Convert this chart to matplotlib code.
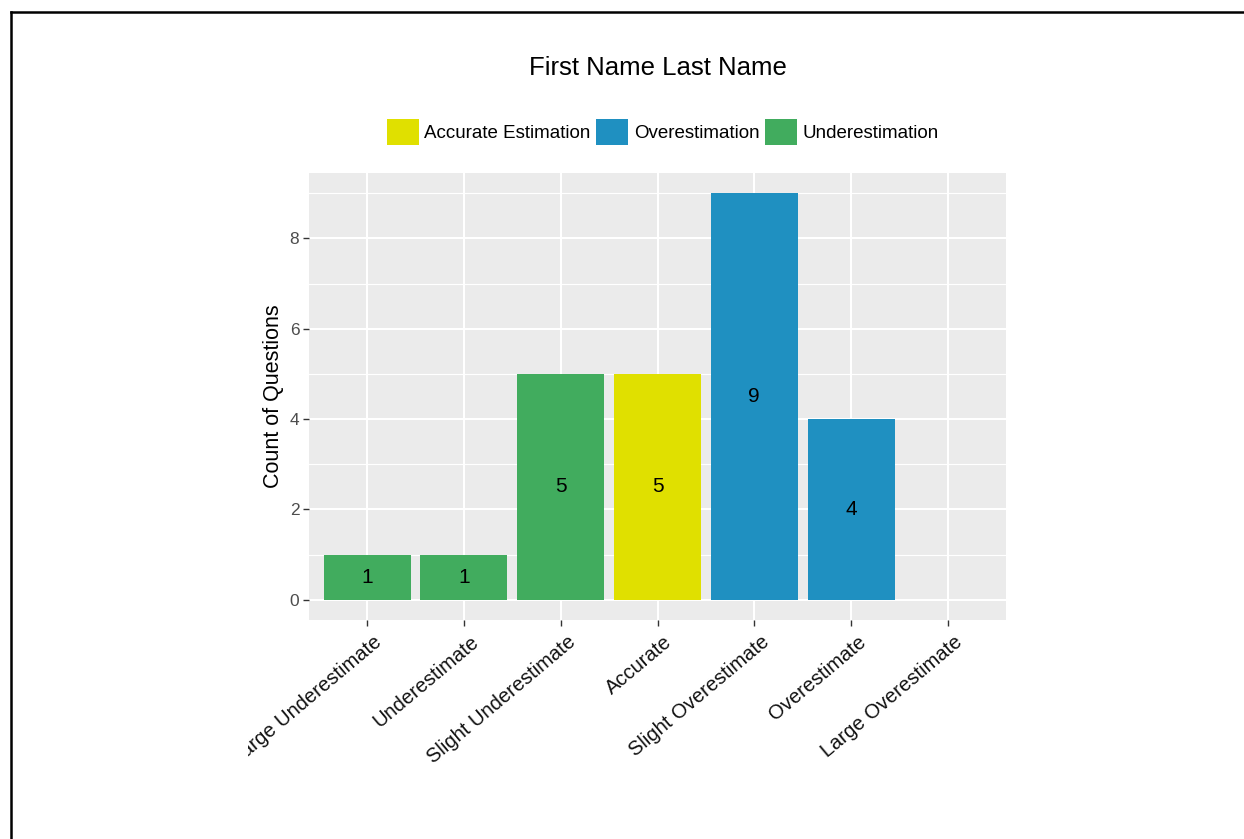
import matplotlib
matplotlib.use("Agg")
import matplotlib.pyplot as plt
from matplotlib.patches import Patch
from matplotlib.lines import Line2D
from matplotlib.transforms import Bbox, TransformedBbox, ScaledTranslation
import numpy as np

categories = ["Large Underestimate", "Underestimate", "Slight Underestimate", "Accurate",
              "Slight Overestimate", "Overestimate", "Large Overestimate"]
counts = [1, 1, 5, 5, 9, 4, 0]
groups = ["Underestimation", "Underestimation", "Underestimation", "Accurate Estimation",
          "Overestimation", "Overestimation", "Overestimation"]
legend_order = ["Accurate Estimation", "Overestimation", "Underestimation"]
colors = {"Accurate Estimation": "#E0E000", "Overestimation": "#1F90C1", "Underestimation": "#41AC5E"}
y_ticks = [0, 2, 4, 6, 8]

plt.rcParams['font.family'] = ['Liberation Sans', 'DejaVu Sans']

W, H = 1244, 839
fig = plt.figure(figsize=(W / 100, H / 100), dpi=100)
ax = fig.add_axes([309 / W, 1 - 620 / H, (1006 - 309) / W, (620 - 173) / H])
ax.set_facecolor("#EBEBEB")

x = np.arange(len(categories))
for i in range(len(categories)):
    if counts[i] > 0:
        ax.bar(x[i], counts[i], width=0.9, color=colors[groups[i]], zorder=3)
        ax.text(x[i], counts[i] / 2, str(counts[i]), ha="center", va="center",
                fontsize=15, color="black", zorder=4)

ax.set_xlim(-0.6, len(categories) - 0.4)
ax.set_ylim(-0.45, 9.45)
ax.set_yticks(y_ticks)
ax.set_yticks([1, 3, 5, 7, 9], minor=True)
ax.set_xticks(x)
ax.set_xticklabels(categories, rotation=40, ha="right", va="top",
                   rotation_mode="anchor", fontsize=14.5, color="#111111")
ax.tick_params(axis="y", labelsize=12.5, labelcolor="#4D4D4D", length=4, width=1,
               color="#333333", pad=3)
ax.tick_params(axis="y", which="minor", length=0)
ax.tick_params(axis="x", length=4, width=1, color="#333333", pad=5)
ax.grid(which="major", color="white", linewidth=1.5, zorder=0)
ax.grid(which="minor", axis="y", color="white", linewidth=0.8, zorder=0)
ax.set_axisbelow(True)
for s in ax.spines.values():
    s.set_visible(False)

ax.set_ylabel("Count of Questions", fontsize=15.5, labelpad=4)

fig.text((309 + 1006) / 2 / W, 1 - 68 / H, "First Name Last Name", ha="center", va="center",
         fontsize=18.5)

handles = [Patch(facecolor=colors[g], edgecolor="none") for g in legend_order]
fig.legend(handles, legend_order, loc="center", bbox_to_anchor=(663 / W, 1 - 132 / H),
           ncol=3, frameon=False, fontsize=13.5, handlelength=1.7, handleheight=1.7,
           handletextpad=0.3, columnspacing=0.3, borderpad=0)

# nudge labels right a little, and cut the first one on the left like the original
clip = TransformedBbox(Bbox([[248 / W, 0], [1, 1]]), fig.transFigure)
shift = ScaledTranslation(6 / 100, 0, fig.dpi_scale_trans)
for lab in ax.get_xticklabels():
    lab.set_transform(lab.get_transform() + shift)
    lab.set_clip_on(True)
    lab.set_clip_box(clip)

# border
fig.add_artist(Line2D([11 / W, 11 / W], [0, 1 - 12 / H], color="black", lw=1.8,
                      transform=fig.transFigure))
fig.add_artist(Line2D([11 / W, 1], [1 - 12 / H, 1 - 12 / H], color="black", lw=1.8,
                      transform=fig.transFigure))

fig.savefig("out.png", dpi=100)
